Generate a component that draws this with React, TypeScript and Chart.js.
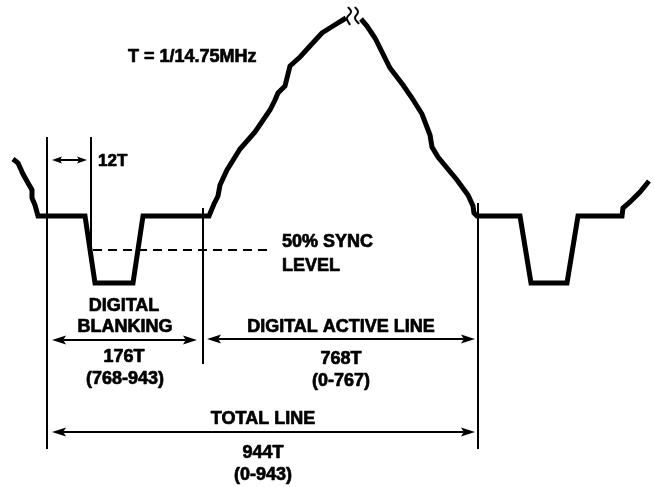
import React, { useEffect, useRef } from "react";
import { Chart, registerables } from "chart.js";

Chart.register(...registerables);

type P = { x: number; y: number };
const pts = (a: number[][]): P[] => a.map(([x, y]) => ({ x, y }));

// Waveform (diagram units, y grows downward)
const waveLeft = pts([
  [13, 159], [18, 163], [23, 174], [28, 183], [32, 190], [32, 198], [35, 205], [38, 216],
  [85, 216], [95, 283], [133, 283], [143, 216], [209, 216],
  [214, 204], [218, 196], [220, 185], [227, 170], [240, 149], [255, 132], [270, 110],
  [275, 100], [278, 93], [285, 86], [290, 66], [300, 57], [310, 46], [322, 33], [333, 26], [346, 18],
]);
const waveRight = pts([
  [361, 19], [367, 26], [375, 38], [390, 68], [403, 85], [412, 98], [422, 114], [430, 135],
  [432, 147], [438, 157], [457, 180], [468, 195], [473, 206], [474, 213], [477, 216],
  [520, 216], [531, 283], [567, 283], [578, 216], [622, 216],
  [623, 208], [630, 202], [640, 192], [649, 181],
]);
const breakMarkA = pts([[348, 7], [351, 12], [347, 18], [350, 25]]);
const breakMarkB = pts([[355, 7], [358, 12], [355, 18], [359, 24]]);

// Reference lines: [x, yTop, yBottom]
const verticalLines: number[][] = [
  [47, 137, 449],
  [91, 137, 252],
  [203, 208, 364],
  [478, 203, 449],
];
const syncLevel = pts([[93, 250], [272, 250]]);

// Dimension arrows: [x1, x2, y, headLength]
const arrows: number[][] = [
  [52, 87, 160, 10],
  [52, 197, 340, 14],
  [207, 475, 339, 14],
  [52, 475, 432, 14],
];

// Text labels: [text, x, y, align, size]
const labels: [string, number, number, string, number][] = [
  ["T = 1/14.75MHz", 128, 56, "left", 18],
  ["12T", 98, 160, "left", 17],
  ["50% SYNC", 282, 241, "left", 18],
  ["LEVEL", 282, 265, "left", 18],
  ["DIGITAL", 124, 305, "center", 18],
  ["BLANKING", 125, 326, "center", 18],
  ["176T", 124, 356, "center", 18],
  ["(768-943)", 125, 378, "center", 18],
  ["DIGITAL ACTIVE LINE", 341, 326, "center", 18],
  ["768T", 341, 358, "center", 18],
  ["(0-767)", 341, 380, "center", 18],
  ["TOTAL LINE", 263, 418, "center", 18],
  ["944T", 263, 452, "center", 18],
  ["(0-943)", 263, 474, "center", 18],
];

const FONT = "'Liberation Sans', Arial, Helvetica, sans-serif";

const diagramPlugin = {
  id: "diagramExtras",
  afterDatasetsDraw(chart: any) {
    const { ctx, scales } = chart;
    const xs = scales.x;
    const ys = scales.y;
    ctx.save();
    ctx.fillStyle = "#000";
    ctx.strokeStyle = "#000";
    // arrow heads
    arrows.forEach(([x1, x2, y, len]) => {
      const px1 = xs.getPixelForValue(x1);
      const px2 = xs.getPixelForValue(x2);
      const py = ys.getPixelForValue(y);
      const hw = len >= 12 ? 4.5 : 3.5;
      ctx.beginPath();
      ctx.moveTo(px1, py);
      ctx.lineTo(px1 + len, py - hw);
      ctx.lineTo(px1 + len * 0.8, py);
      ctx.lineTo(px1 + len, py + hw);
      ctx.closePath();
      ctx.fill();
      ctx.beginPath();
      ctx.moveTo(px2, py);
      ctx.lineTo(px2 - len, py - hw);
      ctx.lineTo(px2 - len * 0.8, py);
      ctx.lineTo(px2 - len, py + hw);
      ctx.closePath();
      ctx.fill();
    });
    // labels
    ctx.lineWidth = 0.7;
    ctx.lineJoin = "round";
    labels.forEach(([t, x, y, align, size]) => {
      ctx.font = `bold ${size}px ${FONT}`;
      ctx.textAlign = align as CanvasTextAlign;
      ctx.textBaseline = "alphabetic";
      const px = xs.getPixelForValue(x);
      const py = ys.getPixelForValue(y) + size * 0.36;
      ctx.fillText(t, px, py);
      ctx.strokeText(t, px, py);
    });
    ctx.restore();
  },
};

export default function App() {
  const ref = useRef<HTMLCanvasElement | null>(null);
  useEffect(() => {
    if (!ref.current) return;
    const thin = (data: P[], extra: any = {}) => ({
      data,
      showLine: true,
      borderColor: "#000",
      borderWidth: 2,
      pointRadius: 0,
      fill: false,
      ...extra,
    });
    const datasets: any[] = [
      thin(waveLeft, { borderWidth: 5 }),
      thin(waveRight, { borderWidth: 5 }),
      thin(breakMarkA, { tension: 0.5, borderWidth: 2 }),
      thin(breakMarkB, { tension: 0.5, borderWidth: 2 }),
      ...verticalLines.map(([x, y1, y2]) => thin(pts([[x, y1], [x, y2]]))),
      thin(syncLevel, { borderDash: [9, 6] }),
      ...arrows.map(([x1, x2, y, len]) => thin(pts([[x1 + len * 0.8, y], [x2 - len * 0.8, y]]))),
    ];
    const chart = new Chart(ref.current, {
      type: "scatter",
      data: { datasets },
      options: {
        animation: false,
        responsive: false,
        maintainAspectRatio: false,
        layout: { padding: 0 },
        plugins: { legend: { display: false }, tooltip: { enabled: false } },
        scales: {
          x: { type: "linear", min: 0, max: 654, display: false },
          y: { type: "linear", min: 0, max: 487, reverse: true, display: false },
        },
      },
      plugins: [diagramPlugin],
    });
    return () => chart.destroy();
  }, []);
  return (
    <div style={{ position: "fixed", left: 0, top: 0, width: 654, height: 487, background: "#fff" }}>
      <canvas ref={ref} width={654} height={487} style={{ display: "block" }} />
    </div>
  );
}
